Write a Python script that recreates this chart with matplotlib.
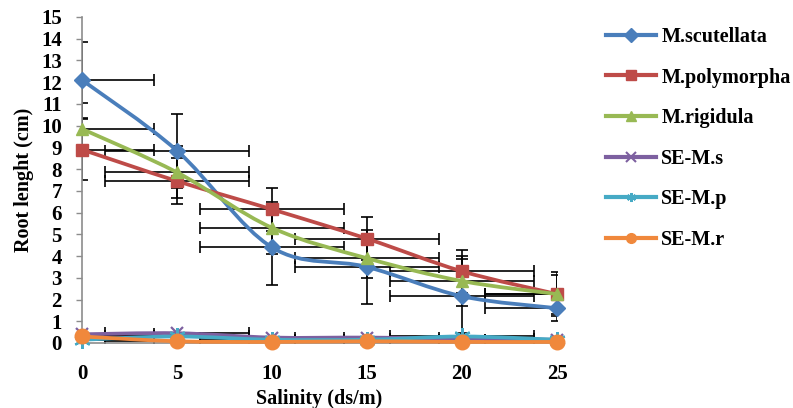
import numpy as np
import matplotlib
matplotlib.use("Agg")
import matplotlib.pyplot as plt
from matplotlib.path import Path
from matplotlib.patches import PathPatch
from matplotlib.lines import Line2D

# ---------------- data ----------------
salinity = [0, 5, 10, 15, 20, 25]
m_scutellata = [12.1, 8.85, 4.4, 3.5, 2.15, 1.6]
m_polymorpha = [8.9, 7.45, 6.15, 4.8, 3.3, 2.25]
m_rigidula = [9.85, 7.85, 5.3, 3.9, 2.85, 2.25]
se_ms = [0.4, 0.45, 0.25, 0.25, 0.2, 0.15]
se_mp = [0.15, 0.3, 0.15, 0.15, 0.3, 0.15]
se_mr = [0.3, 0.08, 0.05, 0.08, 0.05, 0.05]

yerr_scutellata = [1.75, 1.7, 1.75, 1.7, 1.7, 0.6]
yerr_polymorpha = [1.4, 1.05, 1.0, 1.0, 1.0, 1.0]
yerr_rigidula = [1.2, 1.2, 1.2, 0.9, 1.15, 0.9]
xerr_all = [3.8, 3.8, 3.8, 3.8, 3.8, 3.8]

labels = ["M.scutellata", "M.polymorpha", "M.rigidula", "SE-M.s", "SE-M.p", "SE-M.r"]
y_ticks = list(range(0, 16))
x_ticks = [0, 5, 10, 15, 20, 25]

# ---------------- style ----------------
colors = ["#4A7EBB", "#BE4B48", "#98B954", "#7D60A0", "#46AAC5", "#F0883C"]
markers = ["D", "s", "^", "x", (6, 2, 0), "o"]
msizes = [8.5, 8, 9, 9, 12, 10.5]
serif = ["Liberation Serif", "DejaVu Serif"]
plt.rcParams["font.family"] = serif
plt.rcParams["font.weight"] = "bold"

fig = plt.figure(figsize=(7.93, 4.08), dpi=100)
ax = fig.add_axes([82 / 793, 65 / 408, 475 / 793, 326 / 408])
ax.set_xlim(0, 25)
ax.set_ylim(0, 15)


def smooth_path(x, y):
    pts = np.column_stack([x, y]).astype(float)
    n = len(pts)
    verts = [pts[0]]
    codes = [Path.MOVETO]
    for i in range(n - 1):
        p0 = pts[i - 1] if i > 0 else pts[i]
        p1 = pts[i]
        p2 = pts[i + 1]
        p3 = pts[i + 2] if i + 2 < n else pts[i + 1]
        c1 = p1 + (p2 - p0) / 6.0
        c2 = p2 - (p3 - p1) / 6.0
        verts += [c1, c2, p2]
        codes += [Path.CURVE4] * 3
    return Path(verts, codes)


series = [m_scutellata, m_polymorpha, m_rigidula, se_ms, se_mp, se_mr]
yerrs = [yerr_scutellata, yerr_polymorpha, yerr_rigidula, None, None, None]

for k, (vals, ye) in enumerate(zip(series, yerrs)):
    ax.errorbar(salinity, vals, xerr=xerr_all, yerr=ye, fmt="none",
                ecolor="black", elinewidth=1.2, capsize=4, capthick=1.2,
                zorder=2 + k * 0.1)

for k, vals in enumerate(series):
    c = colors[k]
    patch = PathPatch(smooth_path(salinity, vals), facecolor="none",
                      edgecolor=c, lw=2.7, zorder=3 + k * 0.1,
                      capstyle="round", joinstyle="round")
    patch.set_clip_on(False)
    ax.add_patch(patch)
    mk = markers[k]
    if mk in ("x",) or isinstance(mk, tuple):
        ax.plot(salinity, vals, linestyle="none", marker=mk, markersize=msizes[k],
                markeredgecolor=c, markeredgewidth=1.6, clip_on=False,
                zorder=3.05 + k * 0.1)
    else:
        ax.plot(salinity, vals, linestyle="none", marker=mk, markersize=msizes[k],
                markerfacecolor=c, markeredgecolor=c, clip_on=False,
                zorder=3.05 + k * 0.1)

# axes styling
for s in ["top", "right"]:
    ax.spines[s].set_visible(False)
for s in ["left", "bottom"]:
    ax.spines[s].set_color("#8C8C8C")
    ax.spines[s].set_linewidth(1.2)
ax.set_yticks(y_ticks)
ax.set_xticks(x_ticks)
ax.tick_params(axis="y", direction="out", length=4.5, width=1, color="#8C8C8C",
               pad=10, labelsize=15)
ax.tick_params(axis="x", length=0, pad=15, labelsize=15)
for lab in ax.get_xticklabels() + ax.get_yticklabels():
    lab.set_fontweight("bold")

ax.set_xlabel("Salinity (ds/m)", fontsize=14.5, fontweight="bold", labelpad=4)
ax.set_ylabel("Root lenght (cm)", fontsize=14.5, fontweight="bold", labelpad=5)

handles = []
for k in range(6):
    mk = markers[k]
    if mk in ("x",) or isinstance(mk, tuple):
        h = Line2D([], [], color=colors[k], lw=3, marker=mk, markersize=6.5,
                   markeredgewidth=1.5)
    else:
        h = Line2D([], [], color=colors[k], lw=3, marker=mk, markersize=7)
    handles.append(h)
leg = fig.legend(handles, labels, loc="upper left",
                 bbox_to_anchor=(606 / 793, 1 - 27 / 408), frameon=False,
                 prop={"family": serif, "weight": "bold", "size": 14.5},
                 handlelength=2.5, handletextpad=0.25, labelspacing=1.02,
                 borderpad=0, borderaxespad=0)

fig.savefig("out.png", dpi=100)
